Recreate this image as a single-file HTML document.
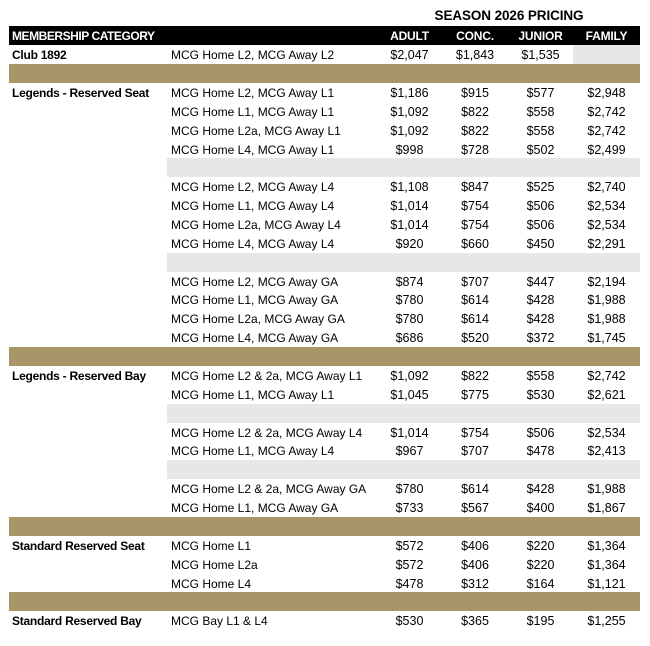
<!DOCTYPE html>
<html>
<head>
<meta charset="utf-8">
<style>
  html,body{margin:0;padding:0;background:#fff;}
  body{width:650px;height:646px;position:relative;overflow:hidden;font-family:"Liberation Sans",Arial,sans-serif;color:#000;}
  .title{position:absolute;left:433px;top:7px;width:152px;text-align:center;font-weight:bold;font-size:13.5px;letter-spacing:-0.1px;line-height:18px;color:#000;white-space:nowrap;}
  .row{position:absolute;left:9px;width:631px;}
  .row span{position:absolute;top:1px;bottom:0;display:flex;align-items:center;white-space:nowrap;}
  .c1{left:3px;font-weight:bold;font-size:12px;letter-spacing:-0.25px;}
  .c2{left:162px;font-size:12px;}
  .n{justify-content:center;font-size:12.5px;}
  .a{left:368px;width:65px;}
  .b{left:433px;width:66px;}
  .j{left:499px;width:65px;}
  .f{left:564px;width:67px;}
  .hdr{background:#000;color:#fff;}
  .hdr span{font-weight:bold;font-size:12px;}
  .hdr .c1{letter-spacing:-0.45px;}
  .hdr .n{font-size:12px;letter-spacing:-0.2px;}
  .gold{background:#a89668;}
  .gray{position:absolute;background:#e7e7e7;}
</style>
</head>
<body>
<div class="title">SEASON 2026 PRICING</div>

<div class="row hdr" style="top:26px;height:18.5px;">
  <span class="c1">MEMBERSHIP CATEGORY</span>
  <span class="n a">ADULT</span><span class="n b">CONC.</span><span class="n j">JUNIOR</span><span class="n f">FAMILY</span>
</div>

<div class="gray" style="left:573px;top:44.5px;width:67px;height:19px;"></div>
<div class="row" style="top:44.5px;height:19px;">
  <span class="c1">Club 1892</span><span class="c2">MCG Home L2, MCG Away L2</span>
  <span class="n a">$2,047</span><span class="n b">$1,843</span><span class="n j">$1,535</span>
</div>

<div class="row gold" style="top:63.5px;height:19.5px;"></div>

<div class="row" style="top:83px;height:18.87px;">
  <span class="c1">Legends - Reserved Seat</span><span class="c2">MCG Home L2, MCG Away L1</span>
  <span class="n a">$1,186</span><span class="n b">$915</span><span class="n j">$577</span><span class="n f">$2,948</span>
</div>
<div class="row" style="top:101.87px;height:18.87px;">
  <span class="c2">MCG Home L1, MCG Away L1</span>
  <span class="n a">$1,092</span><span class="n b">$822</span><span class="n j">$558</span><span class="n f">$2,742</span>
</div>
<div class="row" style="top:120.74px;height:18.87px;">
  <span class="c2">MCG Home L2a, MCG Away L1</span>
  <span class="n a">$1,092</span><span class="n b">$822</span><span class="n j">$558</span><span class="n f">$2,742</span>
</div>
<div class="row" style="top:139.61px;height:18.87px;">
  <span class="c2">MCG Home L4, MCG Away L1</span>
  <span class="n a">$998</span><span class="n b">$728</span><span class="n j">$502</span><span class="n f">$2,499</span>
</div>
<div class="gray" style="left:167px;top:158.48px;width:473px;height:18.87px;"></div>
<div class="row" style="top:177.35px;height:18.87px;">
  <span class="c2">MCG Home L2, MCG Away L4</span>
  <span class="n a">$1,108</span><span class="n b">$847</span><span class="n j">$525</span><span class="n f">$2,740</span>
</div>
<div class="row" style="top:196.22px;height:18.87px;">
  <span class="c2">MCG Home L1, MCG Away L4</span>
  <span class="n a">$1,014</span><span class="n b">$754</span><span class="n j">$506</span><span class="n f">$2,534</span>
</div>
<div class="row" style="top:215.09px;height:18.87px;">
  <span class="c2">MCG Home L2a, MCG Away L4</span>
  <span class="n a">$1,014</span><span class="n b">$754</span><span class="n j">$506</span><span class="n f">$2,534</span>
</div>
<div class="row" style="top:233.96px;height:18.87px;">
  <span class="c2">MCG Home L4, MCG Away L4</span>
  <span class="n a">$920</span><span class="n b">$660</span><span class="n j">$450</span><span class="n f">$2,291</span>
</div>
<div class="gray" style="left:167px;top:252.83px;width:473px;height:18.87px;"></div>
<div class="row" style="top:271.7px;height:18.87px;">
  <span class="c2">MCG Home L2, MCG Away GA</span>
  <span class="n a">$874</span><span class="n b">$707</span><span class="n j">$447</span><span class="n f">$2,194</span>
</div>
<div class="row" style="top:290.57px;height:18.87px;">
  <span class="c2">MCG Home L1, MCG Away GA</span>
  <span class="n a">$780</span><span class="n b">$614</span><span class="n j">$428</span><span class="n f">$1,988</span>
</div>
<div class="row" style="top:309.44px;height:18.87px;">
  <span class="c2">MCG Home L2a, MCG Away GA</span>
  <span class="n a">$780</span><span class="n b">$614</span><span class="n j">$428</span><span class="n f">$1,988</span>
</div>
<div class="row" style="top:328.31px;height:18.87px;">
  <span class="c2">MCG Home L4, MCG Away GA</span>
  <span class="n a">$686</span><span class="n b">$520</span><span class="n j">$372</span><span class="n f">$1,745</span>
</div>
<div class="row gold" style="top:347.18px;height:18.87px;"></div>
<div class="row" style="top:366.05px;height:18.87px;">
  <span class="c1">Legends - Reserved Bay</span><span class="c2">MCG Home L2 &amp; 2a, MCG Away L1</span>
  <span class="n a">$1,092</span><span class="n b">$822</span><span class="n j">$558</span><span class="n f">$2,742</span>
</div>
<div class="row" style="top:384.92px;height:18.87px;">
  <span class="c2">MCG Home L1, MCG Away L1</span>
  <span class="n a">$1,045</span><span class="n b">$775</span><span class="n j">$530</span><span class="n f">$2,621</span>
</div>
<div class="gray" style="left:167px;top:403.79px;width:473px;height:18.87px;"></div>
<div class="row" style="top:422.66px;height:18.87px;">
  <span class="c2">MCG Home L2 &amp; 2a, MCG Away L4</span>
  <span class="n a">$1,014</span><span class="n b">$754</span><span class="n j">$506</span><span class="n f">$2,534</span>
</div>
<div class="row" style="top:441.53px;height:18.87px;">
  <span class="c2">MCG Home L1, MCG Away L4</span>
  <span class="n a">$967</span><span class="n b">$707</span><span class="n j">$478</span><span class="n f">$2,413</span>
</div>
<div class="gray" style="left:167px;top:460.4px;width:473px;height:18.87px;"></div>
<div class="row" style="top:479.27px;height:18.87px;">
  <span class="c2">MCG Home L2 &amp; 2a, MCG Away GA</span>
  <span class="n a">$780</span><span class="n b">$614</span><span class="n j">$428</span><span class="n f">$1,988</span>
</div>
<div class="row" style="top:498.14px;height:18.87px;">
  <span class="c2">MCG Home L1, MCG Away GA</span>
  <span class="n a">$733</span><span class="n b">$567</span><span class="n j">$400</span><span class="n f">$1,867</span>
</div>
<div class="row gold" style="top:517.01px;height:18.87px;"></div>
<div class="row" style="top:535.88px;height:18.87px;">
  <span class="c1">Standard Reserved Seat</span><span class="c2">MCG Home L1</span>
  <span class="n a">$572</span><span class="n b">$406</span><span class="n j">$220</span><span class="n f">$1,364</span>
</div>
<div class="row" style="top:554.75px;height:18.87px;">
  <span class="c2">MCG Home L2a</span>
  <span class="n a">$572</span><span class="n b">$406</span><span class="n j">$220</span><span class="n f">$1,364</span>
</div>
<div class="row" style="top:573.62px;height:18.87px;">
  <span class="c2">MCG Home L4</span>
  <span class="n a">$478</span><span class="n b">$312</span><span class="n j">$164</span><span class="n f">$1,121</span>
</div>
<div class="row gold" style="top:592.49px;height:18.87px;"></div>
<div class="row" style="top:611.36px;height:18.87px;">
  <span class="c1">Standard Reserved Bay</span><span class="c2">MCG Bay L1 &amp; L4</span>
  <span class="n a">$530</span><span class="n b">$365</span><span class="n j">$195</span><span class="n f">$1,255</span>
</div>
</body>
</html>
